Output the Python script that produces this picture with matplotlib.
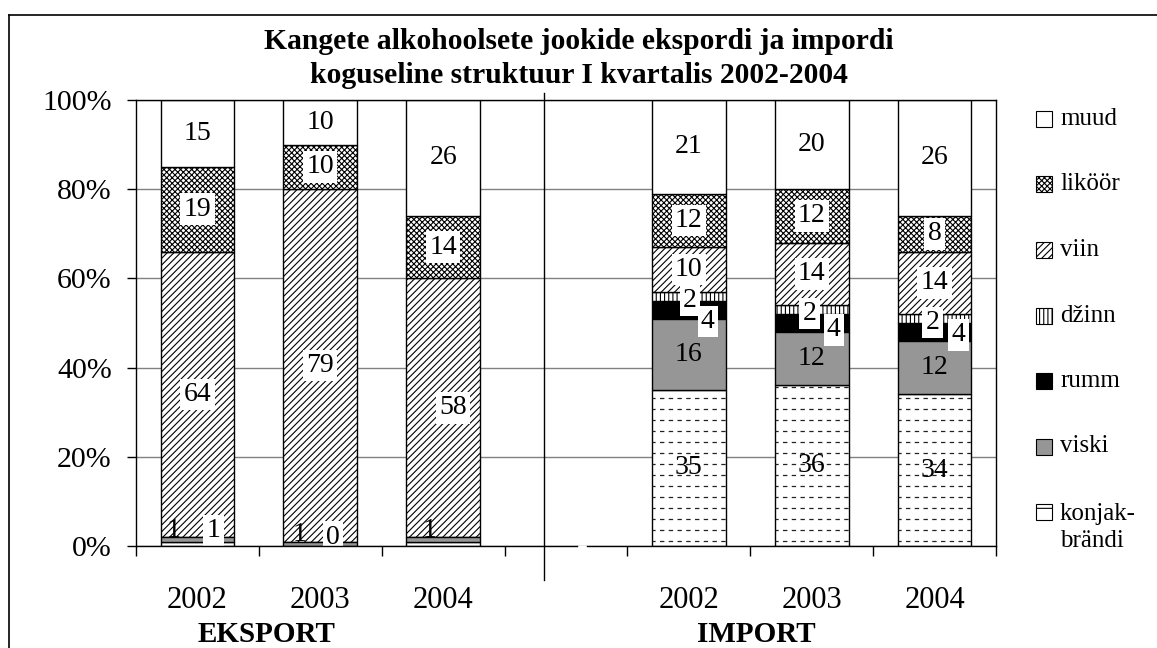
import numpy as np
import matplotlib.pyplot as plt
from matplotlib.patches import Rectangle
from matplotlib.lines import Line2D

plt.rcParams['font.family'] = ['Liberation Serif', 'DejaVu Serif']
plt.rcParams['hatch.linewidth'] = 0.8

# kvartali struktuur, % (eksport 2002-2004, import 2002-2004)
years = ['2002', '2003', '2004', '', '2002', '2003', '2004']
groups = ['EKSPORT', 'IMPORT']
konjak = [1, 0, 1, 35, 36, 34]
viski = [1, 1, 1, 16, 12, 12]
rumm = [0, 0, 0, 4, 4, 4]
dzinn = [0, 0, 0, 2, 2, 2]
viin = [64, 79, 58, 10, 14, 14]
likoor = [19, 10, 14, 12, 12, 8]
muud = [15, 10, 26, 21, 20, 26]

names = ['konjak', 'viski', 'rumm', 'dzinn', 'viin', 'likoor', 'muud']
legend_names = ['konjak-\nbrändi', 'viski', 'rumm', 'džinn', 'viin', 'liköör', 'muud']
values = [konjak, viski, rumm, dzinn, viin, likoor, muud]

xpos = [0, 1, 2, 4, 5, 6]
px = 1157
py = 648

# look of each series
face = {'konjak': 'white', 'viski': '#969696', 'rumm': 'black', 'dzinn': 'white',
        'viin': 'white', 'likoor': 'white', 'muud': 'white'}
hatch = {'konjak': None, 'viski': None, 'rumm': None, 'dzinn': '||||',
         'viin': '/////', 'likoor': 'xxxxxx', 'muud': None}
bar_z = {'konjak': 4, 'viski': 4}

# label nudges in pixels, Excel put a few of them off-centre
shift = {
    ('viski', 0): (-24, 9), ('konjak', 0): (16, 13),
    ('viski', 1): (-21, 9), ('konjak', 1): (13, 9),
    ('viski', 2): (-14, 9), ('viin', 2): (10, 0),
    ('rumm', 3): (19, -12), ('rumm', 4): (22, -7), ('rumm', 5): (24, -3),
    ('dzinn', 3): (1, -4), ('dzinn', 4): (-2, -4), ('dzinn', 5): (-2, -4),
}
hidden = {('rumm', 0), ('rumm', 1), ('rumm', 2), ('dzinn', 0), ('dzinn', 1),
          ('dzinn', 2), ('konjak', 2)}
boxed = {'likoor', 'viin', 'dzinn', 'rumm'}

fig = plt.figure(figsize=(px / 100, py / 100), dpi=100)
ax = fig.add_axes([136 / px, 1 - 546 / py, 860 / px, 446 / py])

bottom = np.zeros(len(xpos))
bars = {}
for name, vals in zip(names, values):
    vals = np.array(vals, dtype=float)
    bars[name] = ax.bar(xpos, vals, 0.6, bottom=bottom, color=face[name],
                        hatch=hatch[name], edgecolor='black', linewidth=1,
                        zorder=bar_z.get(name, 2))
    for j, (x, v, b) in enumerate(zip(xpos, vals, bottom)):
        if (name, j) in hidden:
            continue
        box = None
        if name in boxed or (name == 'konjak' and j < 3):
            box = dict(boxstyle='square,pad=0.12', fc='white', ec='none')
        z = 3 if (name == 'viski' and j < 3) else 6
        ax.annotate(f'{v:g}', (x, b + v / 2), xytext=shift.get((name, j), (0, 0)),
                    textcoords='offset pixels', ha='center', va='center',
                    fontsize=20, bbox=box, zorder=z)
    bottom += vals

# dashed fill of konjak-brändi
step = 11 * 100 / 446
for rect in bars['konjak']:
    y0, h = rect.get_y(), rect.get_height()
    if h <= 0:
        continue
    ys = np.arange(y0 + step / 2, y0 + h, step)
    lc = ax.hlines(ys, rect.get_x(), rect.get_x() + rect.get_width(), colors='#222222',
                   linewidth=0.9, linestyles=(1, (3.5, 3.5)), zorder=4.5)
    lc.set_clip_path(rect)

ax.set_xlim(-0.5, 6.5)
ax.set_ylim(0, 100)
ax.set_yticks(range(0, 101, 20))
ax.set_yticklabels([f'{v}%' for v in range(0, 101, 20)], fontsize=21.5)
ax.set_xticks(range(7))
ax.set_xticklabels(years, fontsize=22)
ax.set_xticks(np.arange(-0.5, 7, 1), minor=True)
ax.tick_params(axis='x', which='major', length=0, pad=29)
ax.tick_params(axis='x', which='minor', length=7, width=1, direction='out')
ax.tick_params(axis='y', length=6.5, width=1, pad=11)
ax.yaxis.grid(True, color='#808080', linewidth=1)
ax.set_axisbelow(True)
for s in ['top', 'right', 'left']:
    ax.spines[s].set_color('black')
    ax.spines[s].set_linewidth(1)
ax.spines['bottom'].set_visible(False)

# baseline with a small break, and the export/import divider
ax.plot([0, 0.5128], [0, 0], transform=ax.transAxes, color='black', lw=1, clip_on=False, zorder=7)
ax.plot([0.5244, 1], [0, 0], transform=ax.transAxes, color='black', lw=1, clip_on=False, zorder=7)
ax.plot([0.4744, 0.4744], [-0.076, 1.016], transform=ax.transAxes, color='black', lw=1,
        clip_on=False, zorder=7)

fig.text(0.5, 1 - 83 / py, 'Kangete alkohoolsete jookide ekspordi ja impordi\n'
         'koguseline struktuur I kvartalis 2002-2004', ha='center', va='baseline',
         fontsize=21.3, weight='bold', linespacing=1.33)
fig.text(266 / px, 1 - 635 / py, groups[0], ha='center', va='center', fontsize=21, weight='bold')
fig.text(756 / px, 1 - 635 / py, groups[1], ha='center', va='center', fontsize=21, weight='bold')

# legend, top entry first
for i, name in enumerate(names[::-1]):
    k = len(names) - 1 - i
    yc = 119 + i * 65.5
    fig.add_artist(Rectangle((1036 / px, 1 - (yc + 8) / py), 16 / px, 16 / py,
                             transform=fig.transFigure, facecolor=face[name],
                             hatch='-' if name == 'konjak' else hatch[name],
                             edgecolor='black', linewidth=0.8))
    ty = yc + 15.5 if '\n' in legend_names[k] else yc
    fig.text(1060 / px, 1 - ty / py, legend_names[k], ha='left', va='center',
             fontsize=18, linespacing=1.3)

# page frame
fig.add_artist(Line2D([9 / px, 1], [1 - 15 / py] * 2, transform=fig.transFigure, color='black', lw=1.2))
fig.add_artist(Line2D([9 / px] * 2, [0, 1 - 15 / py], transform=fig.transFigure, color='black', lw=1.2))

fig.savefig('out.png', dpi=100)
